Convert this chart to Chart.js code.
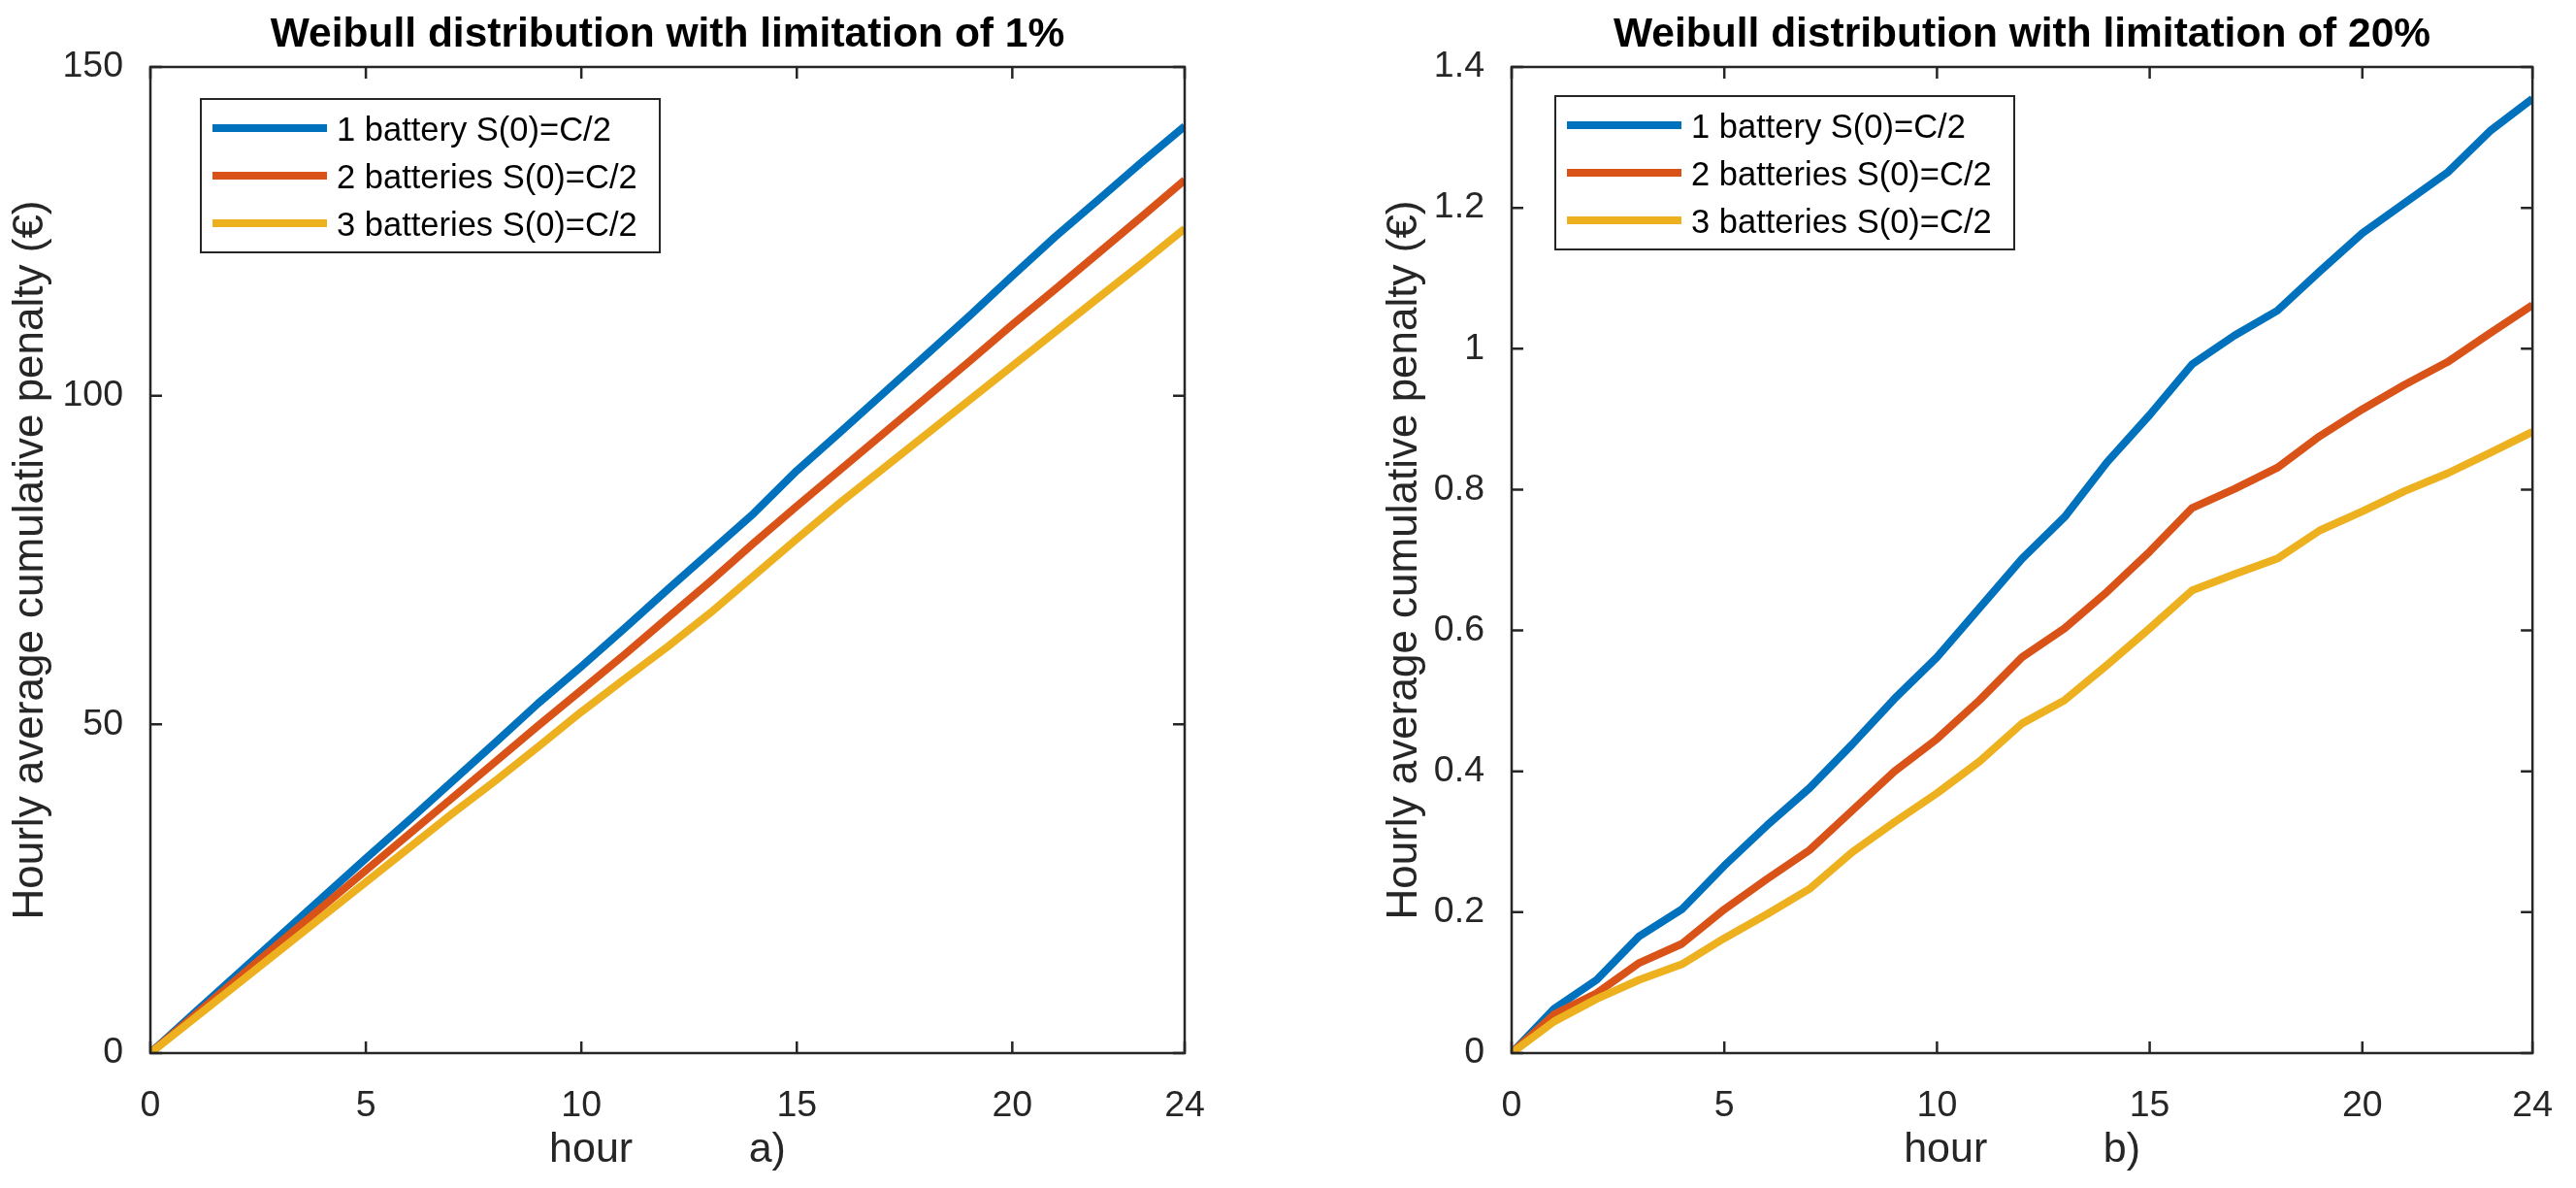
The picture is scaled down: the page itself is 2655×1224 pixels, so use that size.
<!DOCTYPE html>
<html>
<head>
<meta charset="utf-8">
<script src="https://cdn.jsdelivr.net/npm/chart.js@4.4.1/dist/chart.umd.min.js"></script>
<style>
    html, body { margin: 0; padding: 0; background: #fff; }
    #wrap { position: relative; width: 2655px; height: 1224px; }
    canvas { position: absolute; top: 0; }
    #chartA { left: 0; }
    #chartB { left: 1327px; }
</style>
</head>
<body>
<div id="wrap">
    <canvas id="chartA" width="1327" height="1224"></canvas>
    <canvas id="chartB" width="1328" height="1224"></canvas>
</div>
<script>
const hours = [0, 1, 2, 3, 4, 5, 6, 7, 8, 9, 10, 11, 12, 13, 14, 15, 16, 17, 18, 19, 20, 21, 22, 23, 24];
const seriesLabels = ['1 battery S(0)=C/2', '2 batteries S(0)=C/2', '3 batteries S(0)=C/2'];
const seriesColors = ['#0072BD', '#D95319', '#EDB120'];

// a) limitation of 1%
const penaltyA1 = [0, 6.0, 11.9, 17.8, 23.7, 29.6, 35.4, 41.3, 47.2, 53.2, 58.8, 64.6, 70.5, 76.3, 82.1, 88.6, 94.4, 100.3, 106.2, 112.1, 118.2, 124.2, 129.8, 135.5, 141.0];
const penaltyA2 = [0, 5.6, 11.2, 16.8, 22.3, 27.8, 33.3, 38.8, 44.3, 49.8, 55.2, 60.6, 66.2, 71.8, 77.6, 83.2, 88.7, 94.2, 99.7, 105.2, 110.8, 116.2, 121.7, 127.2, 132.8];
const penaltyA3 = [0, 5.2, 10.4, 15.6, 20.8, 26.0, 31.2, 36.4, 41.4, 46.6, 51.9, 56.9, 61.8, 67.0, 72.6, 78.2, 83.7, 88.9, 94.1, 99.3, 104.5, 109.7, 114.9, 120.1, 125.4];

// b) limitation of 20%
const penaltyB1 = [0, 0.063, 0.104, 0.166, 0.204, 0.266, 0.323, 0.376, 0.438, 0.503, 0.562, 0.632, 0.702, 0.761, 0.839, 0.906, 0.978, 1.019, 1.054, 1.110, 1.164, 1.207, 1.250, 1.309, 1.355];
const penaltyB2 = [0, 0.055, 0.085, 0.128, 0.155, 0.204, 0.247, 0.288, 0.344, 0.400, 0.446, 0.501, 0.562, 0.603, 0.655, 0.712, 0.774, 0.801, 0.831, 0.876, 0.914, 0.949, 0.981, 1.022, 1.062];
const penaltyB3 = [0, 0.045, 0.077, 0.104, 0.126, 0.163, 0.197, 0.233, 0.285, 0.328, 0.369, 0.414, 0.468, 0.501, 0.551, 0.603, 0.657, 0.680, 0.702, 0.742, 0.769, 0.798, 0.823, 0.852, 0.882];

const xTicks = [0, 5, 10, 15, 20, 24];
const yTicksA = [0, 50, 100, 150];
const yTicksB = [0, 0.2, 0.4, 0.6, 0.8, 1, 1.2, 1.4];

const FONT = "'Liberation Sans', Arial, Helvetica, sans-serif";
const AXIS = '#262626';

// box around the plot area with inward ticks on all four sides
const boxTicks = {
    id: 'boxTicks',
    afterDatasetsDraw(chart) {
        const { ctx, chartArea: a, scales: { x, y } } = chart;
        const len = 12;
        ctx.save();
        ctx.strokeStyle = AXIS;
        ctx.lineWidth = 2.5;
        ctx.beginPath();
        x.ticks.forEach(t => {
            const px = x.getPixelForValue(t.value);
            ctx.moveTo(px, a.bottom); ctx.lineTo(px, a.bottom - len);
            ctx.moveTo(px, a.top); ctx.lineTo(px, a.top + len);
        });
        y.ticks.forEach(t => {
            const py = y.getPixelForValue(t.value);
            ctx.moveTo(a.left, py); ctx.lineTo(a.left + len, py);
            ctx.moveTo(a.right, py); ctx.lineTo(a.right - len, py);
        });
        ctx.stroke();
        ctx.strokeRect(a.left, a.top, a.right - a.left, a.bottom - a.top);
        ctx.restore();
    }
};

// bold title centred over the plot area (not the whole canvas)
const areaTitle = {
    id: 'areaTitle',
    afterDraw(chart, args, opts) {
        const { ctx, chartArea: a } = chart;
        ctx.save();
        ctx.font = 'bold 42.5px ' + FONT;
        ctx.fillStyle = '#000';
        ctx.textAlign = 'center';
        ctx.textBaseline = 'alphabetic';
        ctx.fillText(opts.text, (a.left + a.right) / 2, 48);
        ctx.restore();
    }
};

// MATLAB-like legend box inside the plot area
const boxLegend = {
    id: 'boxLegend',
    afterDraw(chart, args, opts) {
        const { ctx, chartArea: a } = chart;
        const bx = a.left + opts.dx, by = a.top + opts.dy;
        ctx.save();
        ctx.fillStyle = '#fff';
        ctx.fillRect(bx, by, opts.w, opts.h);
        ctx.strokeStyle = AXIS;
        ctx.lineWidth = 2;
        ctx.strokeRect(bx, by, opts.w, opts.h);
        ctx.font = '34.5px ' + FONT;
        ctx.textBaseline = 'alphabetic';
        ctx.textAlign = 'left';
        chart.data.datasets.forEach((ds, i) => {
            const cy = by + 30 + i * 49;
            ctx.strokeStyle = ds.borderColor;
            ctx.lineWidth = 8;
            ctx.beginPath();
            ctx.moveTo(bx + 12, cy);
            ctx.lineTo(bx + 130, cy);
            ctx.stroke();
            ctx.fillStyle = '#000';
            ctx.fillText(ds.label, bx + 140, cy + 13);
        });
        ctx.restore();
    }
};

function makeDatasets(series) {
    return series.map((vals, i) => ({
        label: seriesLabels[i],
        data: hours.map((h, j) => ({ x: h, y: vals[j] })),
        borderColor: seriesColors[i],
        backgroundColor: seriesColors[i],
        borderWidth: 8,
        pointRadius: 0,
        tension: 0,
        borderJoinStyle: 'round',
        order: 3 - i
    }));
}

function makeChart(id, cfg) {
    return new Chart(document.getElementById(id), {
        type: 'line',
        data: { datasets: makeDatasets(cfg.series) },
        options: {
            responsive: false,
            animation: false,
            devicePixelRatio: 1,
            layout: { padding: { left: 0, right: cfg.padRight, top: 69, bottom: 0 } },
            plugins: {
                legend: { display: false },
                tooltip: { enabled: false },
                title: { display: false },
                areaTitle: { text: cfg.title },
                boxLegend: cfg.legend
            },
            scales: {
                x: {
                    type: 'linear',
                    min: 0,
                    max: 24,
                    grid: { display: false },
                    border: { display: false },
                    afterBuildTicks: s => { s.ticks = xTicks.map(v => ({ value: v })); },
                    afterFit: s => { s.height = 139; },
                    ticks: {
                        color: AXIS,
                        padding: 24,
                        maxRotation: 0,
                        font: { family: FONT, size: 37.5 },
                        callback: v => String(v)
                    },
                    title: {
                        display: true,
                        text: cfg.xTitle,
                        color: AXIS,
                        font: { family: FONT, size: 43 },
                        padding: { top: 0, bottom: 13 }
                    }
                },
                y: {
                    min: 0,
                    max: cfg.yMax,
                    grid: { display: false },
                    border: { display: false },
                    afterBuildTicks: s => { s.ticks = cfg.yTicks.map(v => ({ value: v })); },
                    afterFit: s => { s.width = cfg.yWidth; },
                    ticks: {
                        color: AXIS,
                        padding: 20,
                        font: { family: FONT, size: 37.5 },
                        callback: v => String(Math.round(v * 10) / 10)
                    },
                    title: {
                        display: true,
                        text: 'Hourly average cumulative penalty (€)',
                        color: AXIS,
                        font: { family: FONT, size: 44 },
                        padding: { top: cfg.yTitlePad, bottom: 0 }
                    }
                }
            }
        },
        plugins: [boxTicks, areaTitle, boxLegend]
    });
}

makeChart('chartA', {
    series: [penaltyA1, penaltyA2, penaltyA3],
    title: 'Weibull distribution with limitation of 1%',
    xTitle: 'hour          a)',
    yMax: 150,
    yTicks: yTicksA,
    yWidth: 155,
    yTitlePad: 5,
    padRight: 106,
    legend: { dx: 52, dy: 33, w: 473, h: 158 }
});

makeChart('chartB', {
    series: [penaltyB1, penaltyB2, penaltyB3],
    title: 'Weibull distribution with limitation of 20%',
    xTitle: 'hour          b)',
    yMax: 1.4,
    yTicks: yTicksB,
    yWidth: 231,
    yTitlePad: 94,
    padRight: 32,
    legend: { dx: 45, dy: 30, w: 473, h: 158 }
});
</script>
</body>
</html>
